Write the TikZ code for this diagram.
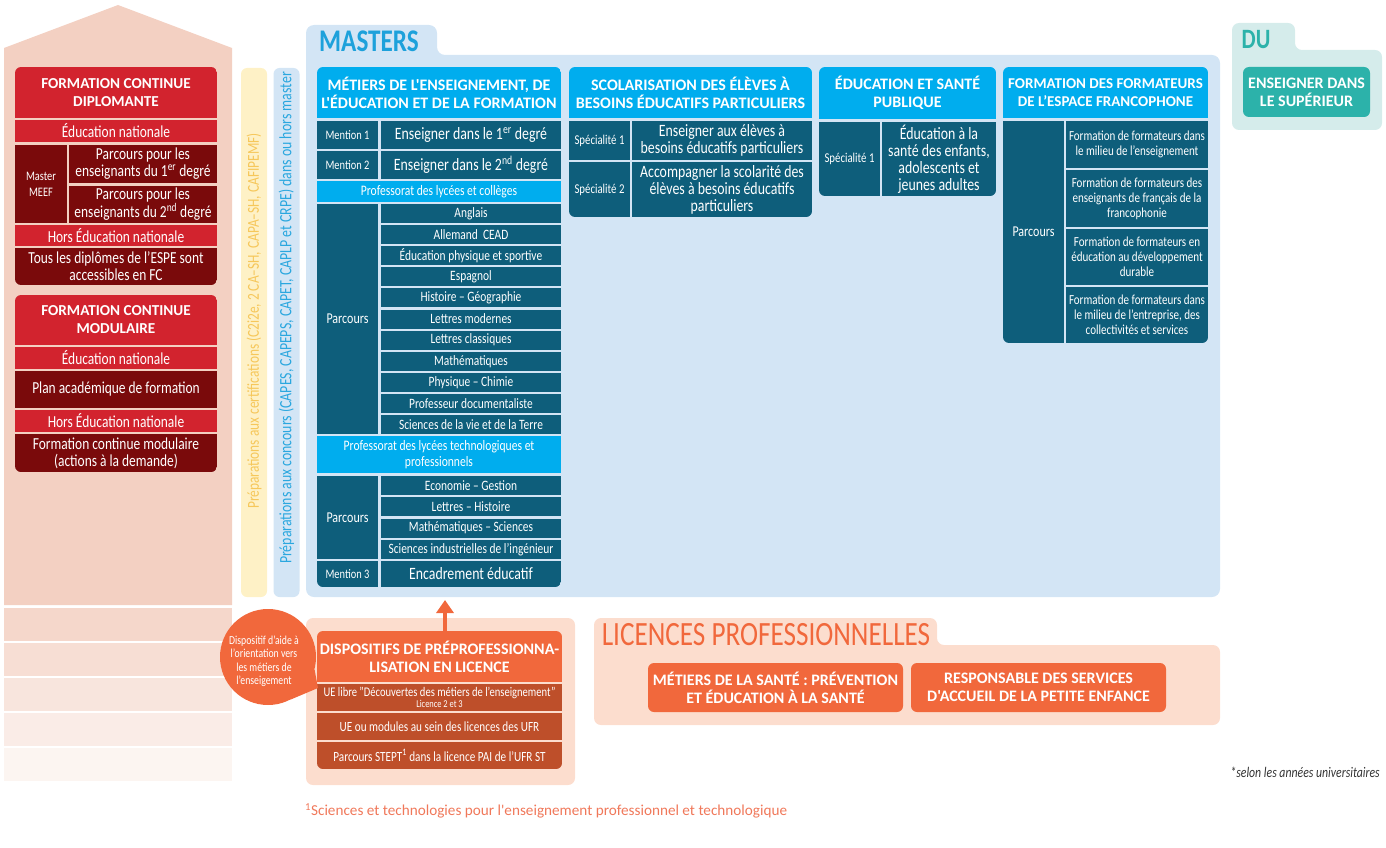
\documentclass[tikz,border=0pt]{standalone}
\usepackage{fontspec}
\setmainfont{Carlito}[FakeStretch=0.8]
\newfontfamily\footfont{Carlito}
\usetikzlibrary{arrows.meta}
\definecolor{house-bg}{RGB}{243,208,194}
\definecolor{fc-red}{RGB}{210,35,46}
\definecolor{fc-dark}{RGB}{122,10,11}
\definecolor{m-cyan}{RGB}{0,173,238}
\definecolor{m-teal}{RGB}{14,94,123}
\definecolor{m-bg}{RGB}{211,229,245}
\definecolor{m-title}{RGB}{29,161,219}
\definecolor{l-orange}{RGB}{241,104,60}
\definecolor{l-brown}{RGB}{190,79,42}
\definecolor{l-bg}{RGB}{252,221,206}
\definecolor{du-bg}{RGB}{213,236,235}
\definecolor{du-teal}{RGB}{44,178,170}
\definecolor{cert-bg}{RGB}{254,241,198}
\definecolor{cert-text}{RGB}{246,199,90}
\definecolor{conc-text}{RGB}{42,167,223}
\definecolor{foot-text}{RGB}{240,120,90}

\newcommand{\fsz}[2]{\fontsize{#1}{#2}\selectfont}
% cell from (x1,y1) to (x2,y2), y going down
\newcommand{\cellnode}[7]{%
  \pgfmathsetmacro{\cellw}{#4-#2}\pgfmathsetmacro{\cellh}{#5-#3}%
  \node[#6, minimum width=\cellw pt, minimum height=\cellh pt] (#1) at ({(#2+#4)/2},{(#3+#5)/2}) {#7};}

\tikzset{
  cellbase/.style={inner sep=0pt, align=center, text=white, font=\fsz{14.3}{15}},
  redcell/.style={cellbase, fill=fc-red, font=\fsz{16.8}{17}},
  darkcell/.style={cellbase, fill=fc-dark, font=\fsz{16.8}{17}},
  fchead/.style={cellbase, fill=fc-red, font=\footfont\bfseries\fsz{15.2}{18}},
  headcell/.style={cellbase, fill=m-cyan, font=\footfont\bfseries\fsz{16}{18}},
  cyancell/.style={cellbase, fill=m-cyan, font=\fsz{14.5}{16}},
  tealcell/.style={cellbase, fill=m-teal},
  labelteal/.style={cellbase, fill=m-teal, font=\fsz{13}{15}},
  bigteal/.style={cellbase, fill=m-teal, font=\fsz{17.3}{17}},
  orangecell/.style={cellbase, fill=l-orange, font=\footfont\bfseries\fsz{16}{18}},
  browncell/.style={cellbase, fill=l-brown, font=\fsz{14}{15}},
  barnode/.style={rotate=90, minimum height=26pt, rounded corners=6pt, inner sep=0pt},
  bartext/.style={rotate=90, inner sep=0pt, font=\fsz{17.3}{18}},
  bigtitle/.style={inner sep=0pt, font=\bfseries\fsz{31.5}{32}}
}

\begin{document}
\begin{tikzpicture}[x=1pt, y=-1pt]
\useasboundingbox (0,0) rectangle (1386,848);

% left column, the house
\fill[house-bg] (4,48) -- (118,5) -- (232,48) -- (232,605) -- (4,605) -- cycle;
\foreach \yy/\op in {608/85, 643/70, 678/55, 713/40, 748/22}
  \fill[house-bg!\op!white] (4,\yy) rectangle (232,\yy+33);

\begin{scope}
\clip[rounded corners=6pt] (15,67) rectangle (217,285);
\cellnode{fcd-head}{15}{67}{217}{118}{fchead}{FORMATION CONTINUE\\DIPLOMANTE}
\cellnode{fcd-edu}{15}{120}{217}{142}{redcell}{Éducation nationale}
\cellnode{fcd-meef}{15}{145}{67}{223}{darkcell, font=\fsz{13}{16}}{Master\\MEEF}
\cellnode{fcd-p1}{69}{145}{217}{183}{darkcell}{Parcours pour les\\enseignants du 1\textsuperscript{er} degré}
\cellnode{fcd-p2}{69}{186}{217}{223}{darkcell}{Parcours pour les\\enseignants du 2\textsuperscript{nd} degré}
\cellnode{fcd-hors}{15}{225}{217}{246}{redcell}{Hors Éducation nationale}
\cellnode{fcd-all}{15}{248}{217}{285}{darkcell}{Tous les diplômes de l'ESPE sont\\accessibles en FC}
\end{scope}

\begin{scope}
\clip[rounded corners=6pt] (15,295) rectangle (217,472);
\cellnode{fcm-head}{15}{295}{217}{345}{fchead}{FORMATION CONTINUE\\MODULAIRE}
\cellnode{fcm-edu}{15}{347}{217}{369}{redcell}{Éducation nationale}
\cellnode{fcm-paf}{15}{371}{217}{408}{darkcell}{Plan académique de formation}
\cellnode{fcm-hors}{15}{410}{217}{432}{redcell}{Hors Éducation nationale}
\cellnode{fcm-dem}{15}{434}{217}{472}{darkcell}{Formation continue modulaire\\(actions à la demande)}
\end{scope}

% preparation bars
\node[barnode, minimum width=529pt, fill=cert-bg] (cert) at (254,332.5) {};
\node[bartext, text=cert-text, font=\fsz{16.7}{18}] (cert-txt) at (254,321)
  {Préparations aux certifications (C2i2e, 2 CA–SH, CAPA–SH, CAFIPEMF)};
\node[barnode, minimum width=529pt, fill=m-bg] (concours) at (286.5,332.5) {};
\node[bartext, text=conc-text] (concours-txt) at (286.5,318)
  {Préparations aux concours (CAPES, CAPEPS, CAPET, CAPLP et CRPE) dans ou hors master};

% masters
\fill[m-bg, rounded corners=8pt] (306,597) -- (306,25) -- (437,25) -- (437,55) -- (1220,55) -- (1220,597) -- cycle;
\node[bigtitle, text=m-title] (masters) at (369,41) {MASTERS};

\begin{scope}
\clip[rounded corners=6pt] (317,67) rectangle (561,587);
\cellnode{meef-head}{317}{67}{561}{118}{headcell}{MÉTIERS DE L'ENSEIGNEMENT, DE\\L'ÉDUCATION ET DE LA FORMATION}
\cellnode{m1}{317}{121}{378}{149}{labelteal}{Mention 1}
\cellnode{m1-txt}{381}{121}{561}{149}{bigteal}{Enseigner dans le 1\textsuperscript{er} degré}
\cellnode{m2}{317}{151}{378}{179}{labelteal}{Mention 2}
\cellnode{m2-txt}{381}{151}{561}{179}{bigteal}{Enseigner dans le 2\textsuperscript{nd} degré}
\cellnode{plc}{317}{181}{561}{202}{cyancell}{Professorat des lycées et collèges}
\cellnode{plc-parc}{317}{204}{378}{434}{tealcell, font=\fsz{15}{16}}{Parcours}
\foreach \txt [count=\i] in {Anglais, Allemand\ \ CEAD, Éducation physique et sportive, Espagnol,
    Histoire – Géographie, Lettres modernes, Lettres classiques, Mathématiques,
    Physique – Chimie, Professeur documentaliste, Sciences de la vie et de la Terre}{
  \pgfmathsetmacro{\ya}{204+(\i-1)*21.1}
  \cellnode{plc-\i}{381}{\ya}{561}{\ya+19}{tealcell}{\txt}
}
\cellnode{plt}{317}{436}{561}{473}{cyancell}{Professorat des lycées technologiques et\\professionnels}
\cellnode{plt-parc}{317}{476}{378}{559}{tealcell, font=\fsz{15}{16}}{Parcours}
\foreach \txt [count=\i] in {Economie – Gestion, Lettres – Histoire,
    Mathématiques – Sciences, Sciences industrielles de l'ingénieur}{
  \pgfmathsetmacro{\ya}{476+(\i-1)*21.25}
  \cellnode{plt-\i}{381}{\ya}{561}{\ya+19}{tealcell}{\txt}
}
\cellnode{m3}{317}{561}{378}{587}{labelteal}{Mention 3}
\cellnode{m3-txt}{381}{561}{561}{587}{bigteal}{Encadrement éducatif}
\end{scope}

\begin{scope}
\clip[rounded corners=6pt] (569,67) rectangle (812,217);
\cellnode{sco-head}{569}{67}{812}{118}{headcell}{SCOLARISATION DES ÉLÈVES À\\BESOINS ÉDUCATIFS PARTICULIERS}
\cellnode{sco-s1}{569}{121}{630}{160}{labelteal, font=\fsz{13.5}{14}}{Spécialité 1}
\cellnode{sco-s1-txt}{632}{121}{812}{160}{bigteal}{Enseigner aux élèves à\\besoins éducatifs particuliers}
\cellnode{sco-s2}{569}{162}{630}{217}{labelteal, font=\fsz{13.5}{14}}{Spécialité 2}
\cellnode{sco-s2-txt}{632}{162}{812}{217}{bigteal}{Accompagner la scolarité des\\élèves à besoins éducatifs\\particuliers}
\end{scope}

\begin{scope}
\clip[rounded corners=6pt] (819,67) rectangle (996,196);
\cellnode{sante-head}{819}{67}{996}{119}{headcell}{ÉDUCATION ET SANTÉ\\PUBLIQUE}
\cellnode{sante-s1}{819}{122}{880}{196}{labelteal, font=\fsz{13.5}{14}}{Spécialité 1}
\cellnode{sante-s1-txt}{882}{122}{996}{196}{bigteal}{Éducation à la\\santé des enfants,\\adolescents et\\jeunes adultes}
\end{scope}

\begin{scope}
\clip[rounded corners=6pt] (1003,67) rectangle (1208,343);
\cellnode{ff-head}{1003}{67}{1208}{118}{headcell, font=\footfont\bfseries\fsz{15}{18}}{FORMATION DES FORMATEURS\\DE L’ESPACE FRANCOPHONE}
\cellnode{ff-parc}{1003}{121}{1064}{343}{tealcell, font=\fsz{15}{16}}{Parcours}
\cellnode{ff-1}{1066}{121}{1208}{168}{tealcell, font=\fsz{13.8}{15}}{Formation de formateurs dans\\le milieu de l'enseignement}
\cellnode{ff-2}{1066}{170}{1208}{227}{tealcell, font=\fsz{13.8}{15}}{Formation de formateurs des\\enseignants de français de la\\francophonie}
\cellnode{ff-3}{1066}{229}{1208}{285}{tealcell, font=\fsz{13.8}{15}}{Formation de formateurs en\\éducation au développement\\durable}
\cellnode{ff-4}{1066}{287}{1208}{343}{tealcell, font=\fsz{13.8}{15}}{Formation de formateurs dans\\le milieu de l'entreprise, des\\collectivités et services}
\end{scope}

% DU
\fill[du-bg, rounded corners=7pt] (1232,130) -- (1232,23) -- (1295,23) -- (1295,50) -- (1382,50) -- (1382,130) -- cycle;
\node[bigtitle, text=du-teal, font=\bfseries\fsz{28}{30}] (du) at (1256,40) {DU};
\cellnode{du-box}{1243}{67}{1370}{117}{cellbase, fill=du-teal, rounded corners=6pt, font=\footfont\bfseries\fsz{16}{18}}{ENSEIGNER DANS\\LE SUPÉRIEUR}

% licences professionnelles
\fill[l-bg, rounded corners=7pt] (594,725) -- (594,618) -- (937,618) -- (937,645) -- (1220,645) -- (1220,725) -- cycle;
\node[inner sep=0pt, text=l-orange, font=\fsz{34}{36}] (lp) at (766,635) {LICENCES PROFESSIONNELLES};
\cellnode{lp-sante}{648}{663}{903}{712}{orangecell, rounded corners=6pt}{MÉTIERS DE LA SANTÉ : PRÉVENTION\\ET ÉDUCATION À LA SANTÉ}
\cellnode{lp-enfance}{911}{663}{1166}{712}{orangecell, rounded corners=6pt}{RESPONSABLE DES SERVICES\\D'ACCUEIL DE LA PETITE ENFANCE}

% preprofessionnalisation
\fill[l-bg, rounded corners=7pt] (306,618) rectangle (575,785);
\begin{scope}
\clip[rounded corners=6pt] (317,631) rectangle (562,769);
\cellnode{pp-head}{317}{631}{562}{682}{orangecell}{DISPOSITIFS DE PRÉPROFESSIONNA-\\LISATION EN LICENCE}
\cellnode{pp-ue}{317}{684}{562}{711}{browncell, font=\fsz{13.2}{11}}{UE libre "Découvertes des métiers de l'enseignement"\\{\fsz{10.5}{11}Licence 2 et 3}}
\cellnode{pp-ufr}{317}{713}{562}{740}{browncell}{UE ou modules au sein des licences des UFR}
\cellnode{pp-stept}{317}{742}{562}{769}{browncell}{Parcours STEPT\textsuperscript{1} dans la licence PAI de l'UFR ST}
\end{scope}
\coordinate (masters-foot) at (445,600);
\draw[l-orange, line width=4pt, -{Triangle[length=13pt, width=17pt]}] (pp-head.north -| masters-foot) -- (masters-foot);

% bubble
\node[circle, fill=l-orange, minimum size=96pt, inner sep=0pt] (bubble) at (268,657) {};
\coordinate (bubble-tip) at (318,688);
\fill[l-orange] (bubble.-15) -- (bubble-tip) -- (bubble.-62) -- cycle;
\node[align=center, text=white, font=\fsz{12.2}{13.5}] (bubble-txt) at (264,661)
  {Dispositif d'aide à\\l'orientation vers\\les métiers de\\l'enseigement};

% notes
\node[anchor=west, inner sep=0pt, text=foot-text, font=\footfont\fsz{15.2}{16}] (footnote) at (305,811)
  {\textsuperscript{1}Sciences et technologies pour l'enseignement professionnel et technologique};
\node[anchor=east, inner sep=0pt, text=black!80, font=\itshape\fsz{14.7}{15}] (note) at (1380,772)
  {*selon les années universitaires};
\end{tikzpicture}
\end{document}
